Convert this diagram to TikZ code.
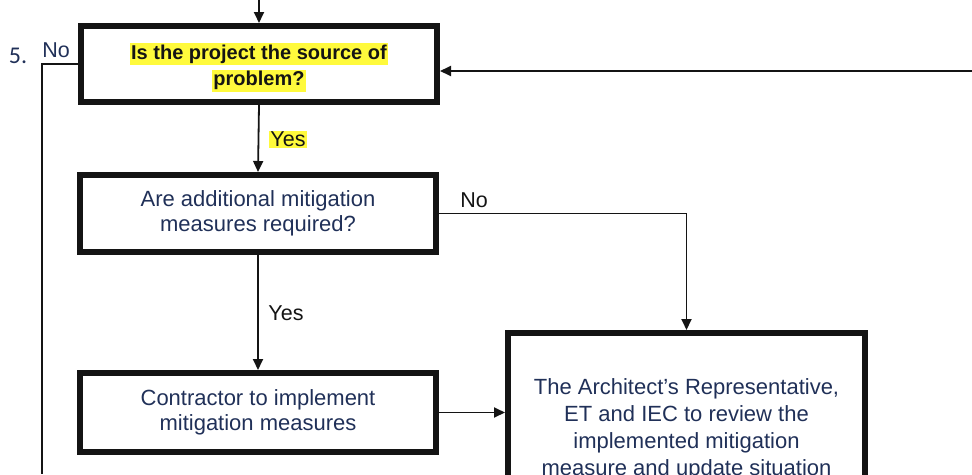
\documentclass[tikz,border=0pt]{standalone}
\usepackage{fontspec}
\setmainfont{Liberation Sans}
\newfontfamily\carl{Carlito}
\usetikzlibrary{arrows.meta}
\definecolor{navy}{RGB}{32,48,88}
\definecolor{hl}{RGB}{255,250,60}
\definecolor{ink}{RGB}{20,20,20}
\begin{document}
\begin{tikzpicture}[x=1pt,y=-1pt,
 box/.style={draw=ink, line width=6pt, minimum width=356pt, inner sep=0pt, align=center, font=\fontsize{22}{25.5}\selectfont, text=navy},
 conn/.style={draw=ink, line width=1.8pt},
 arr/.style={conn, -{Triangle[length=11pt,width=10pt]}},
 lbl/.style={font=\fontsize{21.5}{25}\selectfont, text=ink, inner sep=1pt}
]
\useasboundingbox (0,0) rectangle (972,474);
\clip (0,0) rectangle (972,474);
\setlength{\fboxsep}{1.5pt}
\node[box, minimum height=76pt] (q1) at (259,64) {};
\node[align=center, text=ink, font=\fontsize{20}{26.5}\selectfont, inner sep=0pt] (q1t) at (259,67.5) {\colorbox{hl}{\textbf{Is the project the source of}}\\\colorbox{hl}{\textbf{problem?}}};
\node[box, minimum height=77pt] (q2) at (258,213.5) {Are additional mitigation\\measures required?};
\node[box, minimum height=79pt] (c) at (258,412.5) {Contractor to implement\\mitigation measures};
\node[box, minimum width=357pt, minimum height=200pt, anchor=north] (r) at (686.5,330) {};
\node[align=center, font=\fontsize{22}{27}\selectfont, text=navy, anchor=north, inner sep=0pt] (rt) at (686.5,378) {The Architect’s Representative,\\ET and IEC to review the\\implemented mitigation\\measure and update situation};
\coordinate (top) at (259,0);
\draw[arr] (top) -- (q1.north);
\draw[arr] (q1.south) -- (q2.north);
\node[lbl, fill=hl] (yes1) at (288,139) {Yes};
\coordinate (rin) at (972,71);
\draw[arr] (rin) -- (rin -| q1.east);
\draw[arr] (q2.south) -- (c.north);
\node[lbl] (yes2) at (286,313) {Yes};
\draw[arr] (q2.east) -| (r.north);
\node[lbl] (no2) at (474,200) {No};
\draw[arr] (c.east) -- (c.east -| r.west);
\coordinate (lb) at (42,474);
\draw[conn] (q1.west) -| (lb);
\node[lbl, text=navy] (no1) at (56,50) {No};
\node[font=\carl\fontsize{24}{26}\selectfont, text=navy, inner sep=0pt] (five) at (18,56) {5.};
\end{tikzpicture}
\end{document}
